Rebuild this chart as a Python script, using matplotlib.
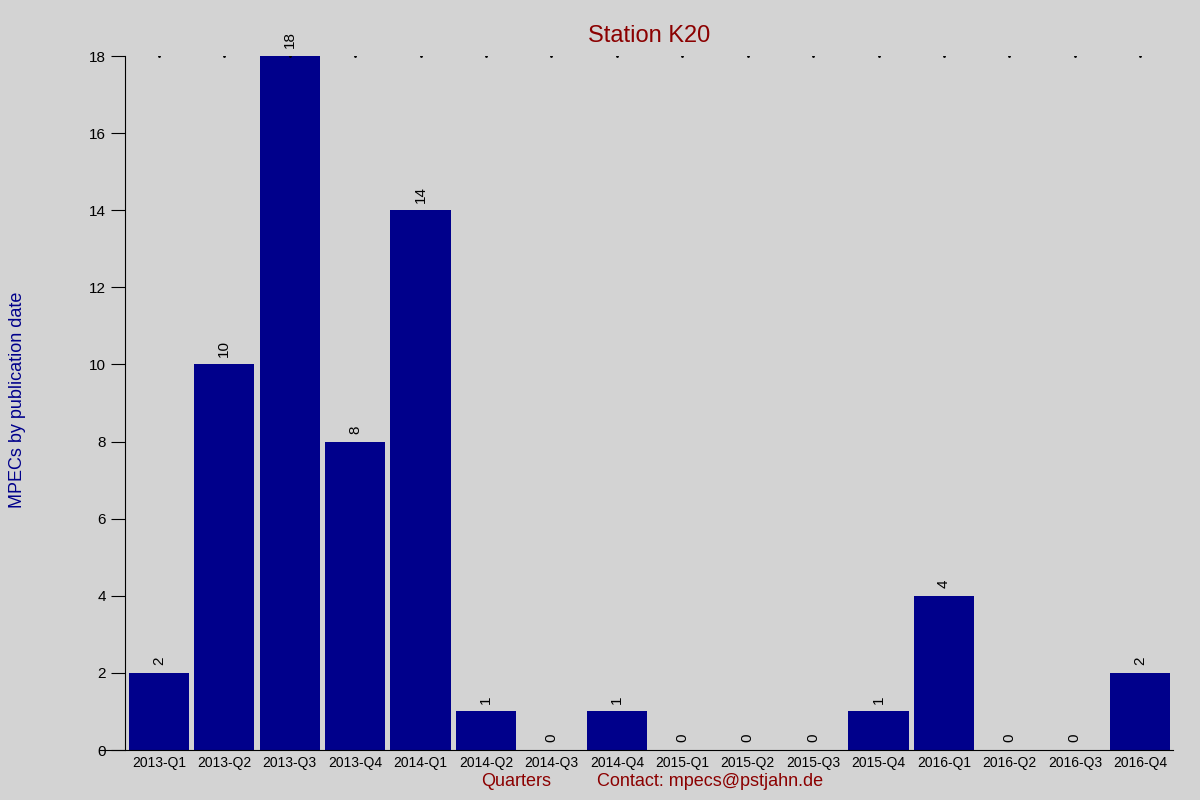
import matplotlib
matplotlib.use("Agg")
import matplotlib.pyplot as plt

quarters = ["2013-Q1","2013-Q2","2013-Q3","2013-Q4","2014-Q1","2014-Q2","2014-Q3","2014-Q4",
            "2015-Q1","2015-Q2","2015-Q3","2015-Q4","2016-Q1","2016-Q2","2016-Q3","2016-Q4"]
counts = [2,10,18,8,14,1,0,1,0,0,0,1,4,0,0,2]

plt.rcParams['font.family'] = ['Liberation Sans', 'DejaVu Sans']
bg = '#d3d3d3'
fig = plt.figure(figsize=(12, 8), dpi=100, facecolor=bg)
ax = fig.add_axes([0.104, 0.0625, 0.8735, 0.8675], facecolor=bg)
x = list(range(len(quarters)))
ax.bar(x, counts, width=0.92, color='#00008b')
for xi, v in zip(x, counts):
    ax.text(xi, v + 0.2, str(v), rotation=90, ha='center', va='bottom', fontsize=11)
ax.scatter(x, [18]*len(x), s=1, color='black', zorder=3)
ax.set_xlim(-0.52, 15.5)
ax.set_ylim(0, 18)
ax.set_yticks(range(0, 19, 2))
ax.set_xticks(x)
ax.set_xticklabels(quarters, fontsize=11)
ax.tick_params(axis='x', length=0, pad=4)
ax.tick_params(axis='y', direction='out', length=10, labelsize=11)
for s in ['top', 'right']:
    ax.spines[s].set_visible(False)
ax.spines['bottom'].set_bounds(-0.9, 15.5)
ax.spines['bottom'].set_position(('data', 0))
ax.set_title("Station K20", color='#8b0000', fontsize=17, pad=10)
fig.text(0.015, 0.5, "MPECs by publication date", rotation=90, va='center', ha='center',
         color='#00008b', fontsize=13)
fig.text(0.43, 0.018, "Quarters", color='#8b0000', fontsize=13, ha='center')
fig.text(0.592, 0.018, "Contact: mpecs@pstjahn.de", color='#8b0000', fontsize=13, ha='center')
fig.savefig("out.png", dpi=100, facecolor=bg)
